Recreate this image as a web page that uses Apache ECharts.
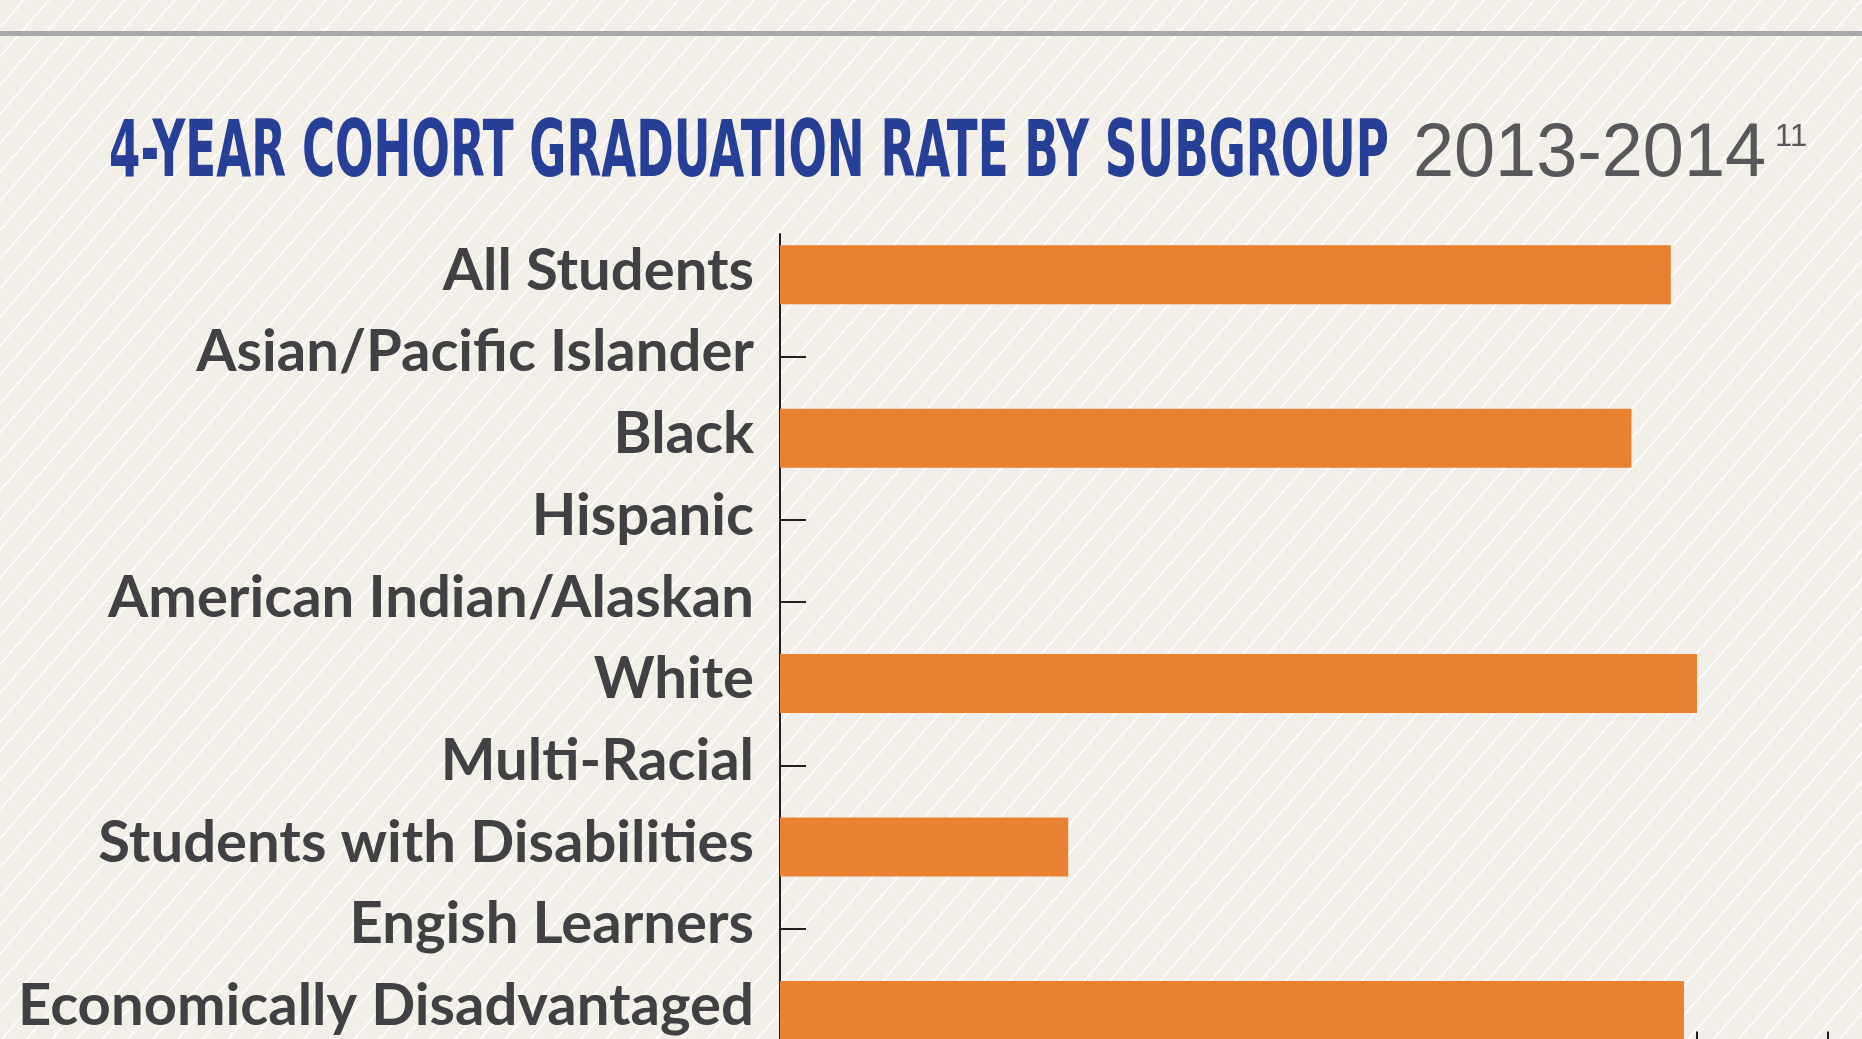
<!DOCTYPE html>
<html>
<head>
<meta charset="utf-8">
<script src="https://cdn.jsdelivr.net/npm/echarts@6/dist/echarts.min.js"></script>
<style>
    html, body { margin: 0; padding: 0; width: 100%; height: 100%; overflow: hidden; }
    body {
        background-color: #f1efe7;
        background-image: repeating-linear-gradient(131deg, #f1efe7 0px, #f1efe7 17px, #fdfcfa 17px, #fdfcfa 19px);
    }
    #chart { width: 1862px; height: 1039px; }
</style>
</head>
<body>
<div id="chart"></div>
<script>
(function(){
    // 分组名称（原图拼写保留）
    const categories = [
        'All Students', 'Asian/Pacific Islander', 'Black', 'Hispanic',
        'American Indian/Alaskan', 'White', 'Multi-Racial',
        'Students with Disabilities', 'Engish Learners', 'Economically Disadvantaged'
    ];
    // 毕业率 %，缺失的组为 null
    const rates = [68, null, 65, null, null, 70, null, 22, null, 69];
    const xMin = 0, xMax = 100, xStep = 10;

    const titleMain = '4-YEAR COHORT GRADUATION RATE BY SUBGROUP';
    const titleYear = '2013-2014';
    const titleNote = '11';

    const chart = echarts.init(document.getElementById('chart'), null, {renderer: 'canvas'});

    // 压缩标题文字宽度，使其与原图一致
    const ctx = document.createElement('canvas').getContext('2d');
    function fitScale(text, font, width){
        ctx.font = font;
        return width / ctx.measureText(text).width;
    }
    const mainFont = 'bold 79px "DejaVu Sans"';
    const yearFont = '76px "Liberation Sans"';
    const mainScale = fitScale(titleMain, mainFont, 1280);
    const yearScale = fitScale(titleYear, yearFont, 353);

    chart.setOption({
        backgroundColor: 'transparent',
        animation: false,
        graphic: [
            {type: 'rect', left: 0, top: 31, shape: {width: 1862, height: 5}, style: {fill: '#a8a8aa'}},
            {type: 'text', x: 109, y: 155, scaleX: mainScale, originX: 0,
                style: {text: titleMain, font: mainFont, fill: '#263f97', verticalAlign: 'middle'}},
            {type: 'text', x: 1413, y: 155, scaleX: yearScale, originX: 0,
                style: {text: titleYear, font: yearFont, fill: '#58585a', verticalAlign: 'middle'}},
            {type: 'text', x: 1775, y: 137, style: {text: titleNote, font: '31px "Liberation Sans"', fill: '#58585a', verticalAlign: 'middle'}}
        ],
        grid: {left: 780, top: 234, width: 1310, height: 817.4, containLabel: false, outerBoundsMode: 'none'},
        xAxis: {
            type: 'value', min: xMin, max: xMax, interval: xStep,
            splitLine: {show: false},
            axisLine: {show: true, lineStyle: {color: '#231f20', width: 2}},
            axisTick: {show: true, inside: true, length: 20, lineStyle: {color: '#231f20', width: 2}},
            axisLabel: {show: true, color: '#414042', fontSize: 40, fontFamily: 'Lato'}
        },
        yAxis: {
            type: 'category', data: categories, inverse: true,
            axisLine: {show: true, lineStyle: {color: '#231f20', width: 2}},
            axisTick: {show: true, inside: true, length: 26, alignWithLabel: true, lineStyle: {color: '#231f20', width: 2}},
            axisLabel: {color: '#414042', fontSize: 58, fontWeight: 'bold', fontFamily: 'Lato', margin: 26,
                verticalAlign: 'bottom', lineHeight: 8}
        },
        series: [{
            type: 'bar',
            data: rates,
            barWidth: 59,
            itemStyle: {color: '#e98230'},
            z: 3
        }]
    });
    window.addEventListener('resize', () => chart.resize());
})();
</script>
</body>
</html>
